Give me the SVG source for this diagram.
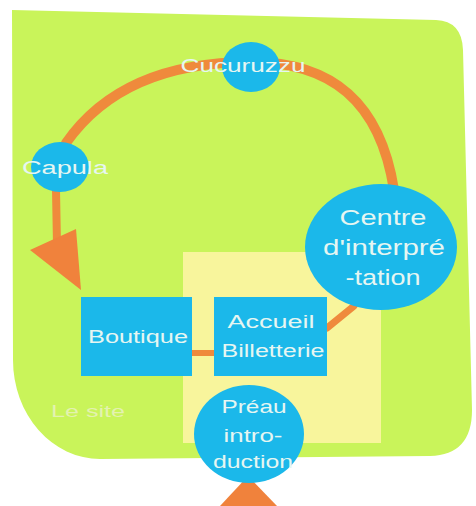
<svg xmlns="http://www.w3.org/2000/svg" width="476" height="506" viewBox="0 0 476 506">
<style>
.node{fill:#1bb8ea}
.lbl{font-family:"Liberation Sans",Arial,sans-serif;fill:#e6f6f2;text-anchor:middle}
.conn{fill:none;stroke:#ef8a3c;stroke-linecap:round}
.head{fill:#f0823c}
</style>
<rect width="476" height="506" fill="#ffffff"/>
<g id="site">
<path d="M12 10 L436 20 Q462 21 463 50 L472 410 Q472 455 430 456 L100 459 A87 99 0 0 1 13 360 Z" fill="#c9f45a"/>
<rect x="183" y="252" width="198" height="191" fill="#f8f59c"/>
<text class="lbl" x="88" y="417" font-size="16" textLength="74" lengthAdjust="spacingAndGlyphs" style="fill:#e3f2b0">Le site</text>
</g>
<g id="connectors">
<path class="conn" stroke-width="10" d="M66 143 C110 80 180 62 251 62 C330 62 380 100 394 190"/>
<path class="conn" stroke-width="8" d="M56 190 L57 245"/>
<polygon class="head" points="30,250 76,229 81,290"/>
<line class="conn" stroke-width="6" x1="192" y1="353" x2="214" y2="353"/>
<line class="conn" stroke-width="7" x1="327" y1="328" x2="354" y2="306"/>
<polygon class="head" points="248,476 220,506 277,506"/>
</g>
<g id="cucuruzzu">
<ellipse class="node" cx="251" cy="67" rx="29" ry="25"/>
<text class="lbl" x="243" y="72" font-size="18" textLength="125" lengthAdjust="spacingAndGlyphs">Cucuruzzu</text>
</g>
<g id="capula">
<ellipse class="node" cx="60" cy="167" rx="29" ry="25"/>
<text class="lbl" x="65" y="174" font-size="18" textLength="86" lengthAdjust="spacingAndGlyphs">Capula</text>
</g>
<g id="centre">
<ellipse class="node" cx="381" cy="247" rx="76" ry="63"/>
<text class="lbl" x="383" y="225" font-size="22" textLength="87" lengthAdjust="spacingAndGlyphs">Centre</text>
<text class="lbl" x="384" y="255" font-size="22" textLength="122" lengthAdjust="spacingAndGlyphs">d'interpré</text>
<text class="lbl" x="383" y="285" font-size="22" textLength="75" lengthAdjust="spacingAndGlyphs">-tation</text>
</g>
<g id="boutique">
<rect class="node" x="81" y="297" width="111" height="79"/>
<text class="lbl" x="138" y="343" font-size="18" textLength="100" lengthAdjust="spacingAndGlyphs">Boutique</text>
</g>
<g id="accueil">
<rect class="node" x="214" y="297" width="113" height="79"/>
<text class="lbl" x="271" y="328" font-size="18" textLength="87" lengthAdjust="spacingAndGlyphs">Accueil</text>
<text class="lbl" x="273" y="357" font-size="18" textLength="103" lengthAdjust="spacingAndGlyphs">Billetterie</text>
</g>
<g id="preau">
<ellipse class="node" cx="249" cy="434" rx="55" ry="49"/>
<text class="lbl" x="254" y="413" font-size="19" textLength="65" lengthAdjust="spacingAndGlyphs">Préau</text>
<text class="lbl" x="253" y="442" font-size="19" textLength="59" lengthAdjust="spacingAndGlyphs">intro-</text>
<text class="lbl" x="253" y="468" font-size="19" textLength="80" lengthAdjust="spacingAndGlyphs">duction</text>
</g>
</svg>
